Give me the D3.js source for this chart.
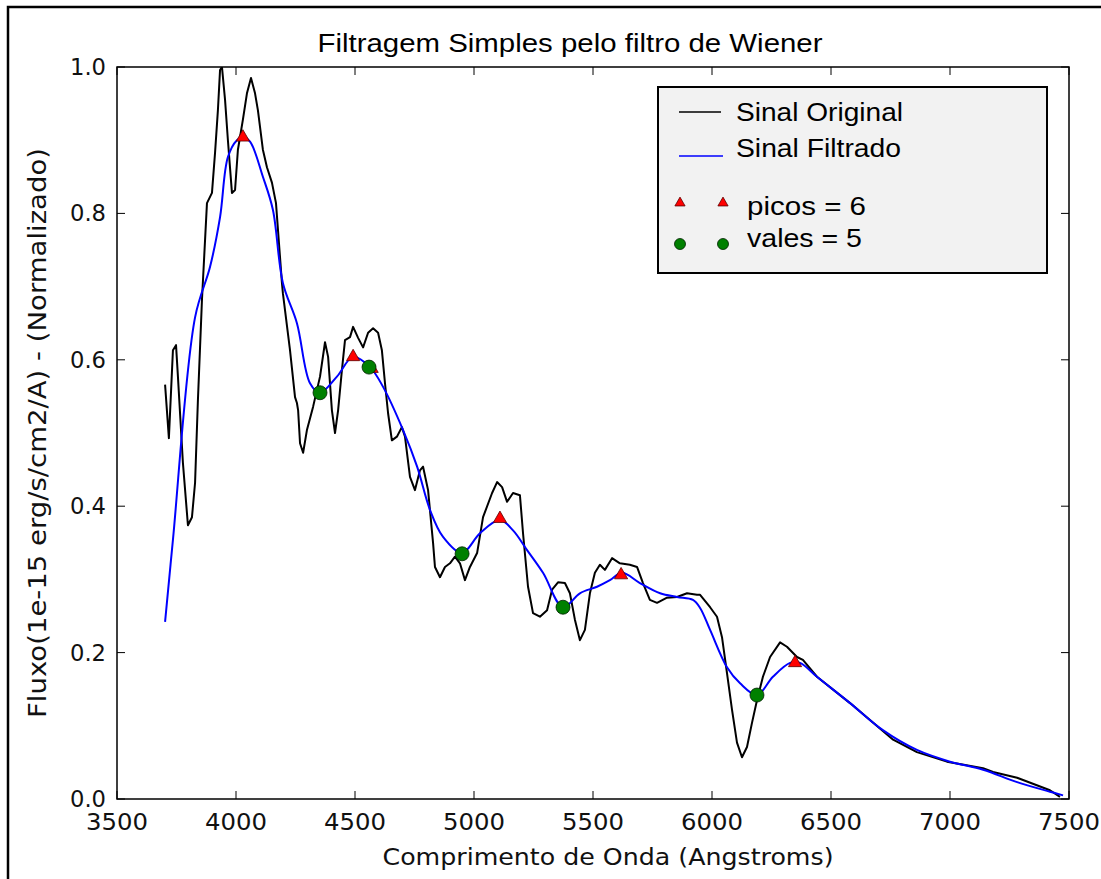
<!DOCTYPE html>
<html><head><meta charset="utf-8">
<script src="https://cdn.jsdelivr.net/npm/d3@7"></script>
<style>body{margin:0;background:#fff}svg{display:block}</style>
</head><body>
<svg id="c" width="1101" height="879"></svg>
<script>
// Original signal (wavelength in Angstroms, normalized flux)
const origX = [3702,3718,3735,3748,3756,3777,3798,3815,3828,3840,3857,3878,3899,3912,3924,3933,3941,3954,3966,3983,3996,4008,4029,4046,4063,4080,4092,4113,4130,4151,4168,4193,4197,4227,4248,4256,4261,4269,4282,4298,4324,4353,4374,4387,4403,4416,4429,4445,4458,4479,4492,4513,4534,4555,4576,4597,4613,4626,4639,4655,4676,4697,4710,4731,4752,4773,4786,4807,4828,4836,4857,4878,4899,4920,4941,4962,4983,5013,5038,5076,5097,5118,5139,5164,5193,5206,5227,5248,5277,5307,5328,5353,5382,5403,5424,5445,5466,5487,5508,5529,5550,5580,5613,5655,5685,5710,5739,5769,5811,5853,5895,5937,5950,5992,6021,6042,6063,6084,6105,6126,6147,6168,6189,6214,6244,6286,6315,6357,6382,6441,6580,6761,6861,6987,7139,7181,7282,7420,7462];
const origY = [0.566,0.493,0.613,0.620,0.577,0.459,0.374,0.385,0.432,0.545,0.682,0.814,0.828,0.883,0.941,0.996,1.0,0.955,0.900,0.828,0.832,0.887,0.928,0.964,0.985,0.964,0.941,0.887,0.863,0.842,0.814,0.705,0.691,0.613,0.549,0.541,0.531,0.486,0.473,0.504,0.536,0.577,0.624,0.604,0.531,0.500,0.531,0.586,0.627,0.631,0.645,0.630,0.617,0.637,0.643,0.637,0.613,0.568,0.527,0.490,0.495,0.508,0.495,0.440,0.422,0.449,0.454,0.422,0.350,0.317,0.303,0.317,0.322,0.331,0.322,0.299,0.317,0.336,0.385,0.418,0.433,0.426,0.406,0.418,0.415,0.363,0.290,0.254,0.249,0.258,0.286,0.296,0.295,0.281,0.245,0.217,0.231,0.281,0.309,0.320,0.313,0.329,0.322,0.320,0.317,0.295,0.272,0.268,0.275,0.276,0.281,0.279,0.279,0.262,0.249,0.221,0.172,0.122,0.077,0.057,0.071,0.104,0.135,0.167,0.194,0.214,0.208,0.194,0.190,0.167,0.131,0.081,0.064,0.051,0.042,0.037,0.029,0.012,0.003];

// Filtered signal
const filtX = [3702,3735,3828,3891,3933,3966,4004,4029,4059,4113,4155,4197,4256,4311,4353,4424,4492,4563,4618,4702,4761,4815,4870,4950,5025,5109,5164,5223,5290,5374,5445,5517,5571,5622,5697,5782,5853,5920,5950,5992,6063,6118,6189,6256,6328,6370,6441,6580,6718,6861,7000,7139,7282,7420,7475];
const filtY = [0.242,0.354,0.658,0.727,0.795,0.877,0.900,0.904,0.898,0.850,0.805,0.705,0.650,0.568,0.555,0.577,0.604,0.590,0.563,0.504,0.454,0.395,0.358,0.336,0.363,0.381,0.367,0.340,0.309,0.262,0.281,0.290,0.299,0.309,0.295,0.281,0.276,0.272,0.261,0.231,0.180,0.158,0.142,0.167,0.186,0.186,0.167,0.131,0.094,0.067,0.051,0.040,0.023,0.010,0.005];

// Peaks and valleys
const peakX = [4029,4492,4570,5109,5618,6349];
const peakY = [0.904,0.604,0.588,0.383,0.306,0.186];
const valeX = [4353,4559,4950,5374,6189];
const valeY = [0.555,0.590,0.335,0.262,0.142];

const xTicks = [3500,4000,4500,5000,5500,6000,6500,7000,7500];
const yTicks = [0.0,0.2,0.4,0.6,0.8,1.0];

const titleText = "Filtragem Simples pelo filtro de Wiener";
const xLabel = "Comprimento de Onda (Angstroms)";
const yLabel = "Fluxo(1e-15 erg/s/cm2/A) - (Normalizado)";
const legendLabels = ["Sinal Original","Sinal Filtrado","picos = 6","vales = 5"];

const svg = d3.select("#c");
const L = 117, R = 1069, T = 67, B = 799;
const x = d3.scaleLinear().domain([3500,7500]).range([L,R]);
const y = d3.scaleLinear().domain([0,1]).range([B,T]);

// outer frame
svg.append("rect").attr("x",8).attr("y",7).attr("width",1200).attr("height",1000)
  .attr("fill","none").attr("stroke","#000").attr("stroke-width",2.5);

const tickFont = "'DejaVu Sans', sans-serif";

svg.append("clipPath").attr("id","clip").append("rect").attr("x",L).attr("y",T).attr("width",R-L).attr("height",B-T);

const g = svg.append("g").attr("clip-path","url(#clip)");
const line = d3.line().x(d=>x(d[0])).y(d=>y(d[1]));
const smooth = d3.line().x(d=>x(d[0])).y(d=>y(d[1])).curve(d3.curveCatmullRom.alpha(0.5));
const orig = origX.map((v,i)=>[v,origY[i]]);
const filt = filtX.map((v,i)=>[v,filtY[i]]);
g.append("path").attr("d",line(orig)).attr("fill","none").attr("stroke","#000").attr("stroke-width",2).attr("stroke-linejoin","round");
g.append("path").attr("d",smooth(filt)).attr("fill","none").attr("stroke","#0000ff").attr("stroke-width",2).attr("stroke-linejoin","round");

const tri = d3.symbol().type(d3.symbolTriangle).size(75);
peakX.forEach((v,i)=>{
  svg.append("path").attr("d",tri()).attr("transform",`translate(${x(v)},${y(peakY[i])})`)
    .attr("fill","#ff0000").attr("stroke","#5a0000").attr("stroke-width",0.8);
});
valeX.forEach((v,i)=>{
  svg.append("circle").attr("cx",x(v)).attr("cy",y(valeY[i])).attr("r",7)
    .attr("fill","#008000").attr("stroke","#002000").attr("stroke-width",0.8);
});

// axes box
svg.append("rect").attr("x",L).attr("y",T).attr("width",R-L).attr("height",B-T)
  .attr("fill","none").attr("stroke","#000").attr("stroke-width",1.5);

const tl = 8;
xTicks.forEach(t=>{
  svg.append("line").attr("x1",x(t)).attr("x2",x(t)).attr("y1",B).attr("y2",B-tl).attr("stroke","#000");
  svg.append("line").attr("x1",x(t)).attr("x2",x(t)).attr("y1",T).attr("y2",T+tl).attr("stroke","#000");
  svg.append("text").attr("x",x(t)).attr("y",B+31).attr("text-anchor","middle")
    .attr("font-family",tickFont).attr("font-size",23).attr("fill","#111")
    .attr("textLength",62).attr("lengthAdjust","spacingAndGlyphs").text(t);
});
yTicks.forEach(t=>{
  svg.append("line").attr("x1",L).attr("x2",L+tl).attr("y1",y(t)).attr("y2",y(t)).attr("stroke","#000");
  svg.append("line").attr("x1",R).attr("x2",R-tl).attr("y1",y(t)).attr("y2",y(t)).attr("stroke","#000");
  svg.append("text").attr("x",L-11).attr("y",y(t)+8).attr("text-anchor","end")
    .attr("font-family",tickFont).attr("font-size",23).attr("fill","#111")
    .attr("textLength",36).attr("lengthAdjust","spacingAndGlyphs").text(t.toFixed(1));
});

// title
svg.append("text").attr("x",570).attr("y",52).attr("text-anchor","middle")
  .attr("font-family","'Liberation Sans', Arial, sans-serif").attr("font-size",25).attr("fill","#000")
  .attr("textLength",505).attr("lengthAdjust","spacingAndGlyphs").text(titleText);
// axis labels
svg.append("text").attr("x",608).attr("y",865).attr("text-anchor","middle")
  .attr("font-family",tickFont).attr("font-size",23).attr("fill","#111")
  .attr("textLength",451).attr("lengthAdjust","spacingAndGlyphs").text(xLabel);
svg.append("text").attr("transform","translate(46,433) rotate(-90)").attr("text-anchor","middle")
  .attr("font-family",tickFont).attr("font-size",24).attr("fill","#111")
  .attr("textLength",570).attr("lengthAdjust","spacingAndGlyphs").text(yLabel);

// legend
const lg = svg.append("g");
lg.append("rect").attr("x",658).attr("y",87).attr("width",389).attr("height",186)
  .attr("fill","#f2f2f2").attr("stroke","#000").attr("stroke-width",2);
const lf = "'Liberation Sans', Arial, sans-serif";
lg.append("line").attr("x1",679).attr("x2",721).attr("y1",112).attr("y2",112).attr("stroke","#000").attr("stroke-width",1.5);
lg.append("line").attr("x1",679).attr("x2",723).attr("y1",156).attr("y2",156).attr("stroke","#0000ff").attr("stroke-width",1.5);
const legW = [167,165,119,115];
lg.append("text").attr("x",736).attr("y",121).attr("font-family",lf).attr("font-size",25)
  .attr("textLength",legW[0]).attr("lengthAdjust","spacingAndGlyphs").text(legendLabels[0]);
lg.append("text").attr("x",736).attr("y",157).attr("font-family",lf).attr("font-size",25)
  .attr("textLength",legW[1]).attr("lengthAdjust","spacingAndGlyphs").text(legendLabels[1]);
const triS = d3.symbol().type(d3.symbolTriangle).size(45);
[680,723].forEach(px=>{
  lg.append("path").attr("d",triS()).attr("transform",`translate(${px},203)`).attr("fill","#ff0000").attr("stroke","#5a0000").attr("stroke-width",0.8);
  lg.append("circle").attr("cx",px).attr("cy",244).attr("r",5.5).attr("fill","#008000").attr("stroke","#002000").attr("stroke-width",0.8);
});
lg.append("text").attr("x",747).attr("y",215).attr("font-family",lf).attr("font-size",25)
  .attr("textLength",legW[2]).attr("lengthAdjust","spacingAndGlyphs").text(legendLabels[2]);
lg.append("text").attr("x",747).attr("y",247).attr("font-family",lf).attr("font-size",25)
  .attr("textLength",legW[3]).attr("lengthAdjust","spacingAndGlyphs").text(legendLabels[3]);
</script>
</body></html>
